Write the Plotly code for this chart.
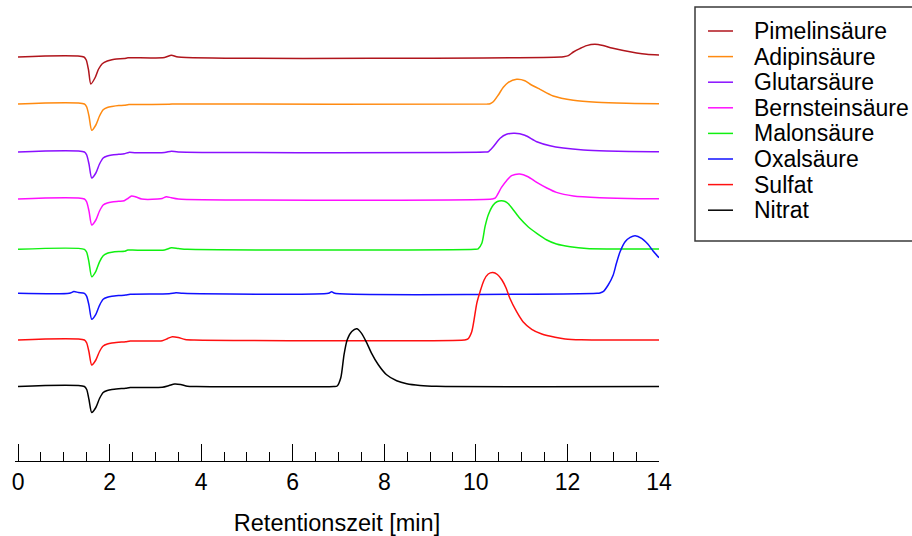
import plotly.graph_objects as go

# Retention time axis ticks
major_ticks = [0, 2, 4, 6, 8, 10, 12, 14]

# Chromatogram traces: retention time [min] and detector signal relative to baseline
nitrat_t = [0, 1.45, 1.50, 1.55, 1.61, 1.70, 1.78, 1.86, 1.95, 2.05, 2.2, 2.35, 2.45, 3.15, 3.3, 3.42, 3.55, 3.7, 3.9,
            6.9, 6.97, 7.05, 7.12, 7.19, 7.29, 7.40, 7.50, 7.62, 7.72, 7.87, 8.05, 8.27, 8.49, 8.78, 9.14, 14]
nitrat_s = [0, 0, -3, -13, -26, -21, -12, -6, -4, -3, -2.3, -1.8, -1, -0.7, 1, 2.5, 2, 0.3, 0,
            0, 0.5, 8.7, 31.7, 46.7, 55, 57.7, 53.4, 43.4, 33.4, 21.7, 11.7, 5.7, 2.7, 1, 0.2, 0]

sulfat_t = [0, 1.45, 1.50, 1.55, 1.61, 1.70, 1.78, 1.86, 1.95, 2.05, 2.2, 2.35, 2.45, 3.15, 3.27, 3.37, 3.5, 3.65, 3.85,
            9.75, 9.82, 9.91, 10.02, 10.09, 10.18, 10.27, 10.37, 10.47, 10.57, 10.66, 10.74, 10.89, 11.03, 11.22, 11.44,
            11.73, 11.95, 12.3, 14]
sulfat_s = [0, 0, -3, -12, -25, -20, -11.5, -6, -4, -3, -2.3, -1.8, -1, -0.7, 1.5, 3.3, 2.5, 0.5, 0,
            0, 0.8, 8.3, 36.7, 48, 60, 66, 67.5, 65.5, 60, 52, 42, 28.3, 18.3, 10.7, 6,
            2.7, 1, 0.2, 0]

oxal_t = [0, 1.12, 1.22, 1.32, 1.45, 1.50, 1.55, 1.61, 1.70, 1.78, 1.86, 1.95, 2.05, 2.2, 2.35, 2.45, 3.3, 3.45, 3.6,
          6.78, 6.85, 6.92, 12.65, 12.71, 12.78, 12.89, 13.0, 13.07, 13.15, 13.26, 13.37, 13.48, 13.62, 13.76, 13.87, 14.0]
oxal_s = [0, 0, 1.7, 0.8, 0, -3, -12, -26, -21, -12, -6, -4, -3, -2.3, -1.8, -1, -0.5, 0.5, 0,
          0, 1.5, 0, 0, 0.3, 1.6, 8.3, 18.3, 30, 41.6, 51.6, 56, 57.6, 55, 49, 42.3, 35.6]

malon_t = [0, 1.45, 1.50, 1.55, 1.61, 1.70, 1.78, 1.86, 1.95, 2.05, 2.2, 2.32, 2.40, 2.5, 3.2, 3.35, 3.5, 3.7,
           9.98, 10.05, 10.13, 10.20, 10.27, 10.38, 10.47, 10.56, 10.64, 10.71, 10.82, 10.96, 11.14, 11.33, 11.55,
           11.76, 12.06, 12.42, 12.9, 14]
malon_s = [0, 0, -3, -13, -27.4, -22, -12.5, -6.5, -4, -3, -2.3, -2, -0.8, -0.8, -0.6, 1.5, 0.8, 0,
           0, 0.5, 6, 22.6, 34.3, 44.3, 47.8, 48.6, 47.8, 45.5, 39.3, 31, 22.6, 16, 9.3,
           5.3, 2.6, 0.8, 0.3, 0.2]

bernstein_t = [0, 1.45, 1.50, 1.55, 1.61, 1.70, 1.78, 1.86, 1.95, 2.05, 2.2, 2.32, 2.40, 2.48, 2.58, 2.7, 3.05, 3.15, 3.24, 3.35, 3.5,
               10.35, 10.42, 10.56, 10.67, 10.78, 10.96, 11.14, 11.33, 11.55, 11.76, 12.13, 12.71, 13.58, 14]
bernstein_s = [0, 0, -3, -12, -26, -21, -12, -6, -4, -3, -2.3, -1.7, 0.5, 3, 2, 0, 0, 0.6, 2.3, 1.2, 0,
               0, 0.8, 11.6, 18.3, 23.3, 25, 22.3, 16.6, 11, 6.6, 3, 1.3, 0.3, 0.2]

glutar_t = [0, 1.45, 1.50, 1.55, 1.61, 1.70, 1.78, 1.86, 1.95, 2.05, 2.2, 2.32, 2.42, 2.55, 3.2, 3.35, 3.5,
            10.2, 10.27, 10.38, 10.53, 10.67, 10.85, 11.07, 11.33, 11.62, 11.91, 12.35, 12.86, 13.87, 14]
glutar_s = [0, 0, -3, -12, -26, -21, -12, -6, -4, -3, -2.3, -1.8, -0.4, -0.7, -0.4, 0.8, 0,
            0, 0.3, 5.3, 13.7, 17.7, 18.7, 16.7, 10.3, 6.3, 4, 2, 1, 0.2, 0.2]

adipin_t = [0, 1.45, 1.50, 1.55, 1.61, 1.70, 1.78, 1.86, 1.95, 2.05, 2.2, 2.32, 2.42, 2.55, 3.3, 3.45,
            10.25, 10.31, 10.38, 10.49, 10.60, 10.71, 10.89, 11.07, 11.18, 11.40, 11.69, 12.13, 12.64, 13.29, 14]
adipin_s = [0, 0, -3, -12, -26.3, -21, -12, -5.7, -3.5, -2.5, -1.5, -1.3, -0.5, -0.5, -0.2, 0,
            0, 0.3, 2.3, 9, 16.7, 21.7, 24.7, 23.3, 20, 14.7, 8, 3.7, 1.7, 0.7, 0.3]

pimelin_t = [0, 1.44, 1.49, 1.54, 1.59, 1.68, 1.76, 1.84, 1.95, 2.05, 2.15, 2.32, 2.40, 2.55, 3.2, 3.35, 3.5,
             11.85, 11.91, 12.02, 12.13, 12.27, 12.42, 12.60, 12.78, 12.97, 13.22, 13.51, 13.73, 14]
pimelin_s = [0, 0, -3, -13, -27, -21, -12, -6.7, -4, -2.8, -2, -1.6, -0.8, -0.8, -0.5, 1.8, 0,
             0, 0.3, 1.4, 5, 8.4, 11.4, 12.7, 11.4, 9, 6.4, 4, 2.7, 2]

names = ["Pimelinsäure", "Adipinsäure", "Glutarsäure", "Bernsteinsäure",
         "Malonsäure", "Oxalsäure", "Sulfat", "Nitrat"]
colors = ["#B0151C", "#FF8A10", "#8A10FF", "#FF10FF", "#10F010", "#1010FF", "#FF1010", "#000000"]
# vertical stacking offset of each chromatogram
offsets = [404, 357, 309, 262, 211.7, 167.7, 121, 74.5]
times = [pimelin_t, adipin_t, glutar_t, bernstein_t, malon_t, oxal_t, sulfat_t, nitrat_t]
signals = [pimelin_s, adipin_s, glutar_s, bernstein_s, malon_s, oxal_s, sulfat_s, nitrat_s]

FONT = "Liberation Sans, Arial, sans-serif"
W, H = 912, 536
ML, MR, MT, MB = 15, 253, 0, 75
X_MIN, X_MAX = -0.066, 14   # small left pad so the 0 tick is not clipped at the edge
plot_w = W - ML - MR
plot_h = H - MT - MB

fig = go.Figure()
for name, t, s, off, col in zip(names, times, signals, offsets, colors):
    fig.add_trace(go.Scatter(
        x=t, y=[v + off for v in s], mode="lines", name=name,
        line=dict(color=col, width=1.5, shape="spline", smoothing=0.7),
        showlegend=False, hoverinfo="skip", cliponaxis=False,
    ))


def px_x(px):
    return (px - ML) / plot_w


def px_y(py):
    return (H - MB - py) / plot_h


# hand-built legend box
shapes = [dict(type="rect", xref="paper", yref="paper",
               x0=px_x(695), x1=px_x(916), y0=px_y(241), y1=px_y(7),
               line=dict(color="#3a3a3a", width=1.5), fillcolor="white", layer="above")]
annotations = []
row0, step = 31, 25.6
for i, (name, col) in enumerate(zip(names, colors)):
    yc = row0 + i * step
    shapes.append(dict(type="line", xref="paper", yref="paper",
                       x0=px_x(708), x1=px_x(733), y0=px_y(yc), y1=px_y(yc),
                       line=dict(color=col, width=1.5), layer="above"))
    annotations.append(dict(xref="paper", yref="paper", x=px_x(752), y=px_y(yc),
                            text=name, showarrow=False, xanchor="left", yanchor="middle",
                            font=dict(family=FONT, size=23, color="black")))

fig.update_layout(
    width=W, height=H,
    margin=dict(l=ML, r=MR, t=MT, b=MB),
    paper_bgcolor="white", plot_bgcolor="white",
    shapes=shapes, annotations=annotations,
    showlegend=False,
    font=dict(family=FONT, size=23, color="black"),
)
fig.update_xaxes(
    range=[X_MIN, X_MAX], tickvals=major_ticks, ticks="inside", ticklen=17, tickwidth=1.2,
    tickcolor="black", showline=True, linecolor="black", linewidth=1.2,
    showgrid=False, zeroline=False,
    minor=dict(dtick=0.5, ticks="inside", ticklen=9, tickwidth=1.2, tickcolor="black", showgrid=False),
    tickfont=dict(family=FONT, size=23, color="black"),
    title=dict(text="Retentionszeit [min]", font=dict(family=FONT, size=23.5, color="black"), standoff=20),
)
fig.update_yaxes(range=[0, plot_h], visible=False)

fig.write_html("out.html")
